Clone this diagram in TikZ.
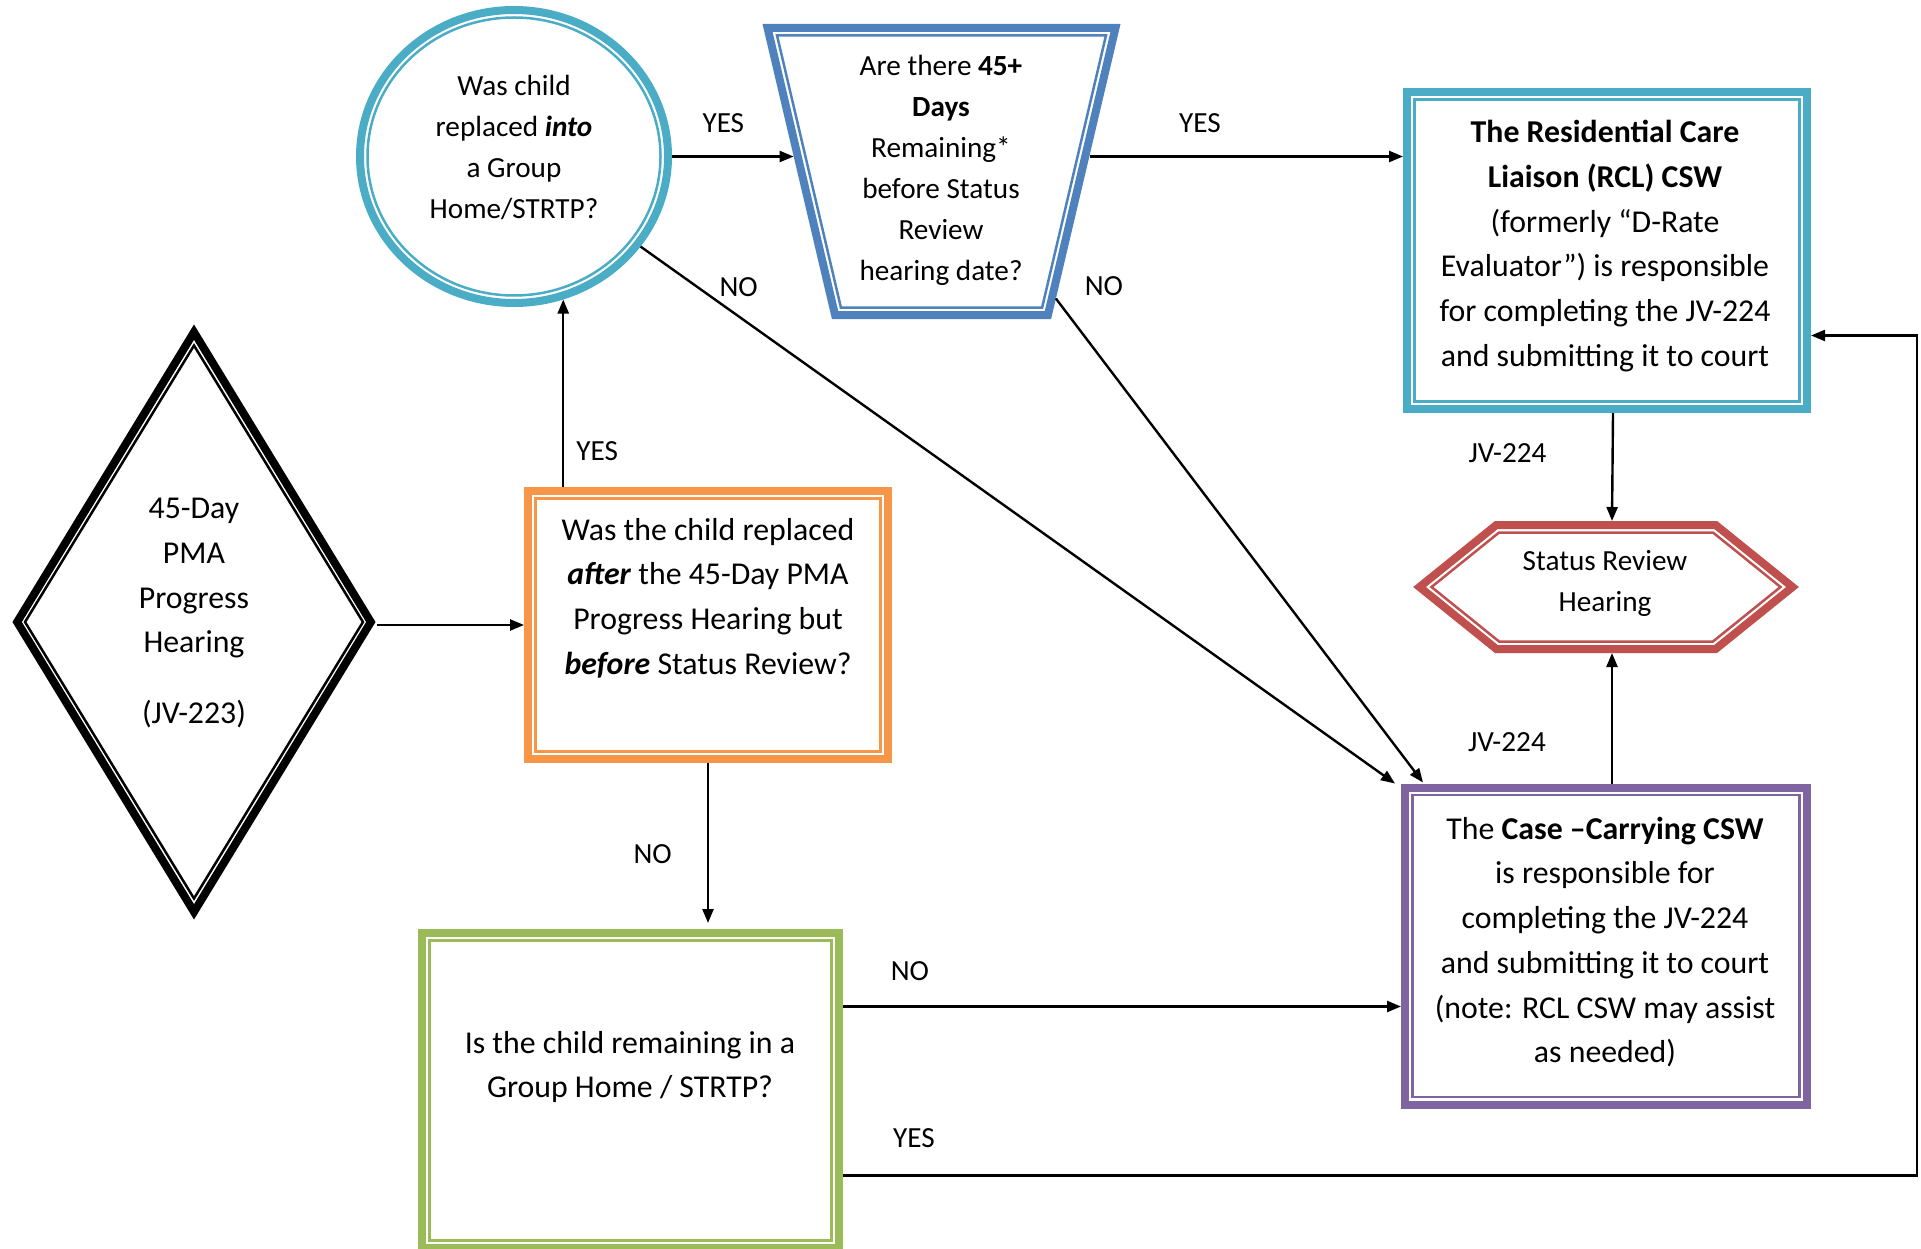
\documentclass[tikz,border=0pt]{standalone}
\usepackage{fontspec}
\setmainfont{Carlito}
\usetikzlibrary{arrows.meta, shapes.geometric, shapes.symbols}
\definecolor{aqua}{HTML}{4BACC6}
\definecolor{steel}{HTML}{4F81BD}
\definecolor{tang}{HTML}{F79646}
\definecolor{brick}{HTML}{C0504D}
\definecolor{plum}{HTML}{8064A2}
\definecolor{grass}{HTML}{9BBB59}
\newcommand{\boxfnt}{\fontsize{31.8}{44.7}\selectfont}
\newcommand{\lblfnt}{\fontsize{29.2}{41}\selectfont}
\tikzset{
  shell/.style ={draw=#1, line width=8pt, inner sep=0pt},
  liner/.style ={draw=#1, line width=2.5pt, inner sep=0pt},
  trap/.style  ={trapezium, trapezium left angle=72.4, trapezium right angle=72.4,
                 shape border rotate=180, trapezium stretches=true, inner sep=2pt},
  hexa/.style  ={signal, signal to=west and east, signal pointer angle=77.8, inner sep=2pt},
  txt/.style   ={align=center, font=\boxfnt, inner sep=0pt},
  stxt/.style  ={align=center, font=\lblfnt, inner sep=0pt},
  lbl/.style   ={font=\lblfnt, inner sep=0pt},
  arr/.style   ={-{Triangle[length=14pt, width=11pt]}, line width=2.4pt}
}
\begin{document}
\begin{tikzpicture}[x=1pt, y=-1pt]
  \useasboundingbox (0,0) rectangle (1921,1249);

  % shapes: thick outline + thin inner line
  \node[shell=black, diamond, minimum width=357, minimum height=583] (pma) at (194,622) {};
  \node[liner=black, diamond, minimum width=339, minimum height=554] (pma-in) at (pma) {};
  \node[shell=tang, minimum width=360, minimum height=268] (q0) at (708,625) {};
  \node[liner=tang, minimum width=345, minimum height=253] (q0-in) at (q0) {};
  \node[shell=aqua, ellipse, minimum width=308, minimum height=293] (q1) at (514,156.5) {};
  \node[liner=aqua, ellipse, minimum width=293, minimum height=278] (q1-in) at (q1) {};
  \node[shell=steel, trap, minimum width=348, minimum height=287] (q2) at (941.5,171.5) {};
  \node[liner=steel, trap, minimum width=329, minimum height=272] (q2-in) at (q2) {};
  \node[shell=aqua, minimum width=400, minimum height=317] (rcl) at (1607,250.5) {};
  \node[liner=aqua, minimum width=385, minimum height=302] (rcl-in) at (rcl) {};
  \node[shell=brick, hexa, minimum width=373, minimum height=124] (srh) at (1606,587) {};
  \node[liner=brick, hexa, minimum width=349, minimum height=109] (srh-in) at (srh) {};
  \node[shell=plum, minimum width=402, minimum height=317] (ccsw) at (1606,946) {};
  \node[liner=plum, minimum width=387, minimum height=302] (ccsw-in) at (ccsw) {};
  \node[shell=grass, minimum width=417, minimum height=315] (q3) at (630.5,1090.5) {};
  \node[liner=grass, minimum width=402, minimum height=300] (q3-in) at (q3) {};

  % texts
  \node[txt] (pma-t) at (194,613) {45-Day\\PMA\\Progress\\Hearing\\[26pt](JV-223)};
  \node[txt] (q0-t) at (708,598) {Was the child replaced\\\textbf{\textit{after}} the 45-Day PMA\\Progress Hearing but\\\textbf{\textit{before}} Status Review?};
  \node[stxt] (q1-t) at (514,147) {Was child\\replaced \textbf{\textit{into}}\\a Group\\Home/STRTP?};
  \node[stxt] (q2-t) at (941,170) {Are there \textbf{45+}\\\textbf{Days}\\Remaining*\\before Status\\Review\\hearing date?};
  \node[txt] (rcl-t) at (1605,246) {\textbf{The Residential Care}\\\textbf{Liaison (RCL) CSW}\\(formerly “D-Rate\\Evaluator”) is responsible\\for completing the JV-224\\and submitting it to court};
  \node[stxt] (srh-t) at (1605,583) {Status Review\\Hearing};
  \node[txt] (ccsw-t) at (1605,942) {The \textbf{Case –Carrying CSW}\\is responsible for\\completing the JV-224\\and submitting it to court\\(note: RCL CSW may assist\\as needed)};
  \node[txt] (q3-t) at (630,1067) {Is the child remaining in a\\Group Home / STRTP?};

  % connectors
  \draw[arr] (pma.east |- q0.west) -- (q0.west);
  \draw[arr] (q0.north -| q1.-71) -- node[lbl, pos=.19, right=12pt] {YES} (q1.-71);
  \draw[arr, shorten >=3.6pt] (q1.east) -- node[lbl, pos=.41, above=23pt] {YES} (q2.west |- q1.east);
  \draw[arr, shorten <=3.7pt] (q2.east |- q1.east) -- node[lbl, pos=.36, above=23pt] {YES} (rcl.west |- q1.east);
  \draw[arr] (q1) -- node[lbl, pos=.13, above=18pt] {NO} ([xshift=-6pt]ccsw.north west);
  \draw[arr] (q2.-48) -- node[lbl, at start, xshift=48pt, yshift=12pt] {NO} ([shift={(22,-1)}]ccsw.north west);
  \draw[arr] ([xshift=6pt]rcl.south) -- node[lbl, pos=.37, left=65pt] {JV-224} ([xshift=6pt]srh.north);
  \draw[arr] ([xshift=6pt]ccsw.north) -- node[lbl, pos=.32, left=65pt] {JV-224} ([xshift=6pt]srh.south);
  \draw[arr, shorten >=6pt] (q0.south) -- node[lbl, pos=.55, left=35pt] {NO} (q0.south |- q3.north);
  \draw[arr] ([yshift=84pt]q3.east) -- node[lbl, pos=.12, above=25pt] {NO} ([yshift=84pt]q3.east -| ccsw.west);
  \draw[arr] ([yshift=-85pt]q3.east) -| node[lbl, pos=.033, above=27pt] {YES}
    ([xshift=106pt, yshift=-85pt]rcl.east) -- ([yshift=-85pt]rcl.east);
\end{tikzpicture}
\end{document}
